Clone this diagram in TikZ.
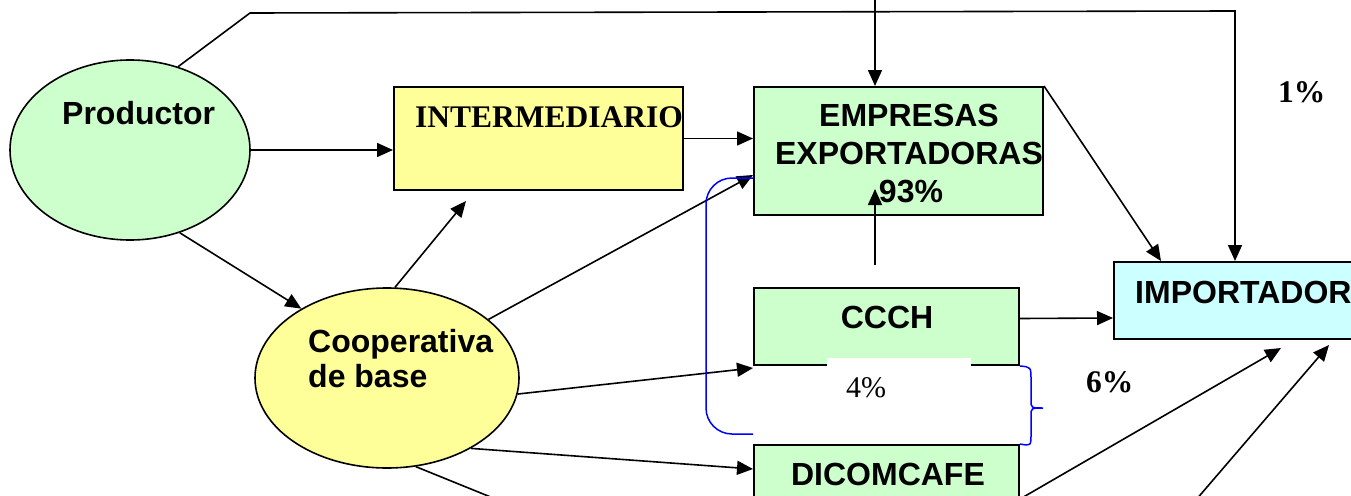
\documentclass[tikz,border=0pt]{standalone}
\usepackage{fontspec}
\setmainfont{Liberation Serif}
\setsansfont{Liberation Sans}
\usetikzlibrary{arrows.meta,shapes.geometric,calc}
\definecolor{lgreen}{HTML}{CCFFCC}
\definecolor{lyellow}{HTML}{FFFF99}
\definecolor{lcyan}{HTML}{CCFFFF}
\definecolor{bblue}{HTML}{0000FF}
\begin{document}
\begin{tikzpicture}[x=1pt,y=-1pt,
 conn/.style={line width=1.6pt,-{Triangle[length=16pt,width=14pt]}},
 plain/.style={line width=1.6pt},
 boxnode/.style={draw, line width=2pt, inner sep=0pt},
 ell/.style={ellipse, draw, line width=1.6pt, inner sep=0pt},
 sanslbl/.style={font=\sffamily\bfseries\fontsize{32}{38}\selectfont, inner sep=0pt},
 serifb/.style={font=\rmfamily\bfseries\fontsize{31.5}{38}\selectfont, inner sep=0pt},
 serifr/.style={font=\rmfamily\fontsize{30}{36}\selectfont, inner sep=0pt}]
\useasboundingbox (0,0) rectangle (1351,495);
% shapes
\node[ell, fill=lgreen, minimum width=240pt, minimum height=180pt] (prod) at (130,150) {};
\node[ell, fill=lyellow, minimum width=264pt, minimum height=180pt] (coop) at (387,378) {};
\node[boxnode, fill=lyellow, minimum width=289pt, minimum height=103pt] (inter) at (538.5,138.5) {};
\node[boxnode, fill=lgreen, minimum width=289pt, minimum height=128pt] (emp) at (898.5,151) {};
\node[boxnode, fill=lgreen, minimum width=265pt, minimum height=77pt] (ccch) at (886.5,326.5) {};
\node[boxnode, fill=lgreen, minimum width=265pt, minimum height=76pt] (dicom) at (886.5,483) {};
\node[boxnode, fill=lcyan, minimum width=266pt, minimum height=77pt] (imp) at (1247,300.5) {};
\fill[white] (827,358) rectangle (971,420);
% texts
\node[sanslbl, anchor=base west] (tprod) at (62,124) {Productor};
\node[serifb, anchor=base west] (tinter) at (415,127) {INTERMEDIARIO};
\node[sanslbl, anchor=base] (temp1) at (909,126) {EMPRESAS};
\node[sanslbl, anchor=base] (temp2) at (909,164) {EXPORTADORAS};
\node[sanslbl, anchor=base] (temp3) at (911,202) {93\%};
\node[sanslbl, anchor=base west] (tcoop1) at (308,352) {Cooperativa};
\node[sanslbl, anchor=base west] (tcoop2) at (308,387) {de base};
\node[sanslbl, anchor=base] (tccch) at (887,328) {CCCH};
\node[sanslbl, anchor=base] (tdicom) at (888,485) {DICOMCAFE};
\node[sanslbl, anchor=base west] (timp) at (1135,303) {IMPORTADOR};
\node[serifr, anchor=base west] (p4) at (846,397) {4\%};
\node[serifb, anchor=base west] (p6) at (1086,392) {6\%};
\node[serifb, anchor=base west] (p1) at (1278,102) {1\%};
% helper coordinates
\coordinate (t1) at (250,13);
\coordinate (t2) at (1235,11);
\coordinate (top) at (875,0);
\coordinate (up1) at (875,265);
\coordinate (c1) at (530,513);
\coordinate (b1) at (1183,515);
% connectors
\draw[conn] (prod.east) -- (inter.west |- prod.east);
\draw[conn] (inter.east) -- (emp.west |- inter.east);
\draw[conn] (prod.-59) -- (coop.141);
\draw[conn] (coop.85) -- ($(inter.south)+(-72.5,10)$);
\draw[conn] (coop.30) -- ($(emp.south west)+(0,-41)$);
\draw[conn] (coop.-7) -- ($(ccch.south west)+(0,2)$);
\draw[conn] (coop.-40) -- ($(dicom.north west)+(0,25)$);
\draw[plain] (coop.-72) -- (c1);
\draw[conn] (up1) -- ($(emp.south)+(-23.5,-27)$);
\draw[conn] (top) -- (top |- emp.north);
\draw[conn] (prod.60.5) -- (t1) -- (t2) -- (t2 |- imp.north);
\draw[conn] (emp.north east) -- ($(imp.north west)+(48,0)$);
\draw[conn] ($(ccch.east)+(0,-8)$) -- ($(imp.west)+(0,17.5)$);
\draw[conn] ($(dicom.north east)+(0,55)$) -- ($(imp.south west)+(168,8)$);
\draw[conn] (b1) -- ($(imp.south west)+(216,5)$);
% blue bracket and brace
\draw[bblue, line width=1.5pt, rounded corners=26pt] (emp.west |- 0,178) -- (706,178) -- (706,434) -- (ccch.west |- 0,434);
\draw[bblue, line width=1.5pt] (ccch.south east) .. controls (1031,367) .. (1031,380) -- (1031,400) .. controls (1031,408) .. (1043,408) .. controls (1031,408) .. (1031,416) -- (1031,434) .. controls (1031,446) .. (dicom.north east);
\end{tikzpicture}
\end{document}
